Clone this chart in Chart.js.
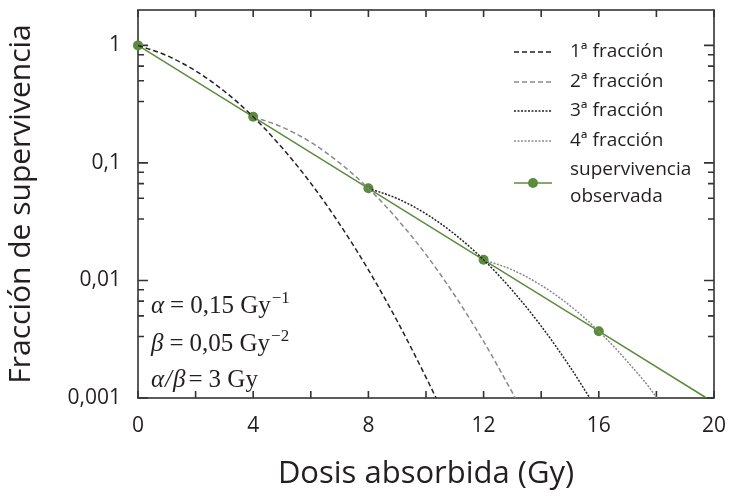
<!DOCTYPE html>
<html>
<head>
<meta charset="utf-8">
<script src="https://cdn.jsdelivr.net/npm/chart.js@4"></script>
<style>
  html, body { margin: 0; padding: 0; background: #fff; }
  #wrap { width: 737px; height: 497px; position: relative; }
</style>
</head>
<body>
<div id="wrap"><canvas id="chart" width="737" height="497"></canvas></div>
<script>
(function(){
  // values
  const dose1 = [0, 1, 2, 3, 4, 5, 6, 7, 8, 9, 10, 10.35];
  const surv1 = [1, 0.819, 0.607, 0.407, 0.247, 0.135, 0.0672, 0.0302, 0.0123, 0.00452, 0.0015, 0.001];
  const dose2 = [4, 5, 6, 7, 8, 9, 10, 11, 12, 13, 13.1];
  const surv2 = [0.247, 0.202, 0.150, 0.100, 0.0608, 0.0333, 0.0166, 0.00745, 0.00303, 0.00111, 0.001];
  const dose3 = [8, 9, 10, 11, 12, 13, 14, 15, 15.69];
  const surv3 = [0.0608, 0.0498, 0.0369, 0.0247, 0.0150, 0.00821, 0.00409, 0.00184, 0.001];
  const dose4 = [12, 13, 14, 15, 16, 17, 18, 18.01];
  const surv4 = [0.0150, 0.0123, 0.0091, 0.0061, 0.0037, 0.00203, 0.00101, 0.001];
  const doseObs = [0, 4, 8, 12, 16, 19.74];
  const survObs = [1, 0.247, 0.0608, 0.0150, 0.0037, 0.001];

  const xTicks = [0, 4, 8, 12, 16, 20];
  const yTicks = [0.001, 0.01, 0.1, 1];
  const yTickLabels = ['0,001', '0,01', '0,1', '1'];
  const legendLabels = ['1ª fracción', '2ª fracción', '3ª fracción', '4ª fracción', ['supervivencia', 'observada']];

  const INK = '#231f20';
  const GREEN = '#5b8c3c';
  const SANS = '"Open Sans", "Noto Sans", sans-serif';

  const pts = (xs, ys) => xs.map((x, i) => ({ x, y: ys[i] }));

  const curve = (label, xs, ys, color, dash) => ({
    label, data: pts(xs, ys), borderColor: color, borderWidth: 1.5,
    borderDash: dash, pointRadius: 0, cubicInterpolationMode: 'monotone', fill: false
  });

  const datasets = [
    curve(legendLabels[0], dose1, surv1, '#222', [5, 3]),
    curve(legendLabels[1], dose2, surv2, '#8a8a8a', [5, 3]),
    curve(legendLabels[2], dose3, surv3, '#222', [2, 1.5]),
    curve(legendLabels[3], dose4, surv4, '#8a8a8a', [2, 1.5]),
    {
      label: 'supervivencia observada', data: pts(doseObs, survObs),
      borderColor: GREEN, backgroundColor: GREEN, borderWidth: 1.5,
      pointRadius: doseObs.map((d, i) => i < doseObs.length - 1 ? 5 : 0),
      pointBorderWidth: 0, tension: 0, fill: false, clip: false
    }
  ];

  // frame, inward ticks, legend and parameter text
  const decor = {
    id: 'decor',
    beforeDatasetsDraw(chart){
      const ctx = chart.ctx, a = chart.chartArea;
      const xs = chart.scales.x, ys = chart.scales.y;
      ctx.save();
      ctx.strokeStyle = '#333';
      ctx.lineWidth = 1.6;
      ctx.strokeRect(a.left, a.top, a.right - a.left, a.bottom - a.top);
      ctx.beginPath();
      for (let v = 0; v <= 20; v += 2) {
        const px = xs.getPixelForValue(v);
        ctx.moveTo(px, a.bottom); ctx.lineTo(px, a.bottom - 7);
        ctx.moveTo(px, a.top); ctx.lineTo(px, a.top + 7);
      }
      yTicks.forEach(v => {
        const py = ys.getPixelForValue(v);
        ctx.moveTo(a.left, py); ctx.lineTo(a.left + 10, py);
        ctx.moveTo(a.right, py); ctx.lineTo(a.right - 10, py);
        if (v < 1) [10/1.2, 10/1.5, 5, 10/3].forEach(m => {
          const q = ys.getPixelForValue(v * m);
          ctx.moveTo(a.left, q); ctx.lineTo(a.left + 6, q);
          ctx.moveTo(a.right, q); ctx.lineTo(a.right - 6, q);
        });
      });
      ctx.stroke();
      ctx.restore();
    },
    afterDraw(chart){
      const ctx = chart.ctx;
      ctx.save();
      // legend
      const rows = [52, 82, 111, 141, 183];
      ctx.font = '19px ' + SANS;
      ctx.fillStyle = INK;
      ctx.textBaseline = 'middle';
      chart.data.datasets.forEach((ds, i) => {
        const y = rows[i];
        ctx.beginPath();
        ctx.strokeStyle = ds.borderColor;
        ctx.lineWidth = 1.3;
        ctx.setLineDash(ds.borderDash || []);
        ctx.moveTo(514, y); ctx.lineTo(552, y);
        ctx.stroke();
        ctx.setLineDash([]);
        if (i === 4) {
          ctx.beginPath();
          ctx.fillStyle = GREEN;
          ctx.arc(533, y, 5, 0, Math.PI * 2);
          ctx.fill();
          ctx.fillStyle = INK;
          ctx.fillText(legendLabels[i][0], 570, y - 13);
          ctx.fillText(legendLabels[i][1], 570, y + 14);
        } else {
          ctx.fillText(legendLabels[i], 570, y);
        }
      });

      // parameters
      const serif = '"Liberation Serif", "DejaVu Serif", serif';
      const put = (parts, x, y) => {
        parts.forEach(p => {
          ctx.font = (p.i ? 'italic ' : '') + (p.s || 25) + 'px ' + serif;
          ctx.fillText(p.t, x, y + (p.dy || 0));
          x += ctx.measureText(p.t).width + (p.gap || 0);
        });
      };
      ctx.textBaseline = 'alphabetic';
      put([{t:'α', i:1, gap:6}, {t:'=', gap:6}, {t:'0,15 Gy', gap:1}, {t:'−1', s:17, dy:-10}], 151, 313);
      put([{t:'β', i:1, gap:6}, {t:'=', gap:6}, {t:'0,05 Gy', gap:1}, {t:'−2', s:17, dy:-10}], 151, 351);
      put([{t:'α', i:1, gap:1}, {t:'/', i:1, gap:1}, {t:'β', i:1, gap:3}, {t:'=', gap:6}, {t:'3 Gy'}], 151, 387);
      ctx.restore();
    }
  };

  new Chart(document.getElementById('chart'), {
    type: 'line',
    data: { datasets },
    options: {
      responsive: false,
      animation: false,
      layout: { padding: { top: 10, right: 23, left: 0, bottom: 0 } },
      plugins: { legend: { display: false }, tooltip: { enabled: false } },
      scales: {
        x: {
          type: 'linear', min: 0, max: 20,
          afterBuildTicks: s => { s.ticks = xTicks.map(v => ({ value: v })); },
          afterFit: s => { s.height = 99; s.paddingLeft = 0; s.paddingRight = 0; },
          ticks: { color: INK, font: { family: SANS, size: 21 }, padding: 7, maxRotation: 0 },
          grid: { display: false },
          border: { display: false },
          title: { display: true, text: 'Dosis absorbida (Gy)', color: INK, font: { family: SANS, size: 31 }, padding: { top: 6 } }
        },
        y: {
          type: 'logarithmic', min: 0.001, max: 2,
          afterBuildTicks: s => { s.ticks = yTicks.map(v => ({ value: v })); },
          afterFit: s => { s.width = 138; s.paddingTop = 0; s.paddingBottom = 0; },
          ticks: {
            color: INK, font: { family: SANS, size: 21 }, padding: 9,
            callback: v => yTickLabels[yTicks.indexOf(v)] ?? ''
          },
          grid: { display: false },
          border: { display: false },
          title: { display: true, text: 'Fracción de supervivencia', color: INK, font: { family: SANS, size: 30 }, padding: { top: 3, bottom: 0 } }
        }
      }
    },
    plugins: [decor]
  });
})();
</script>
</body>
</html>
